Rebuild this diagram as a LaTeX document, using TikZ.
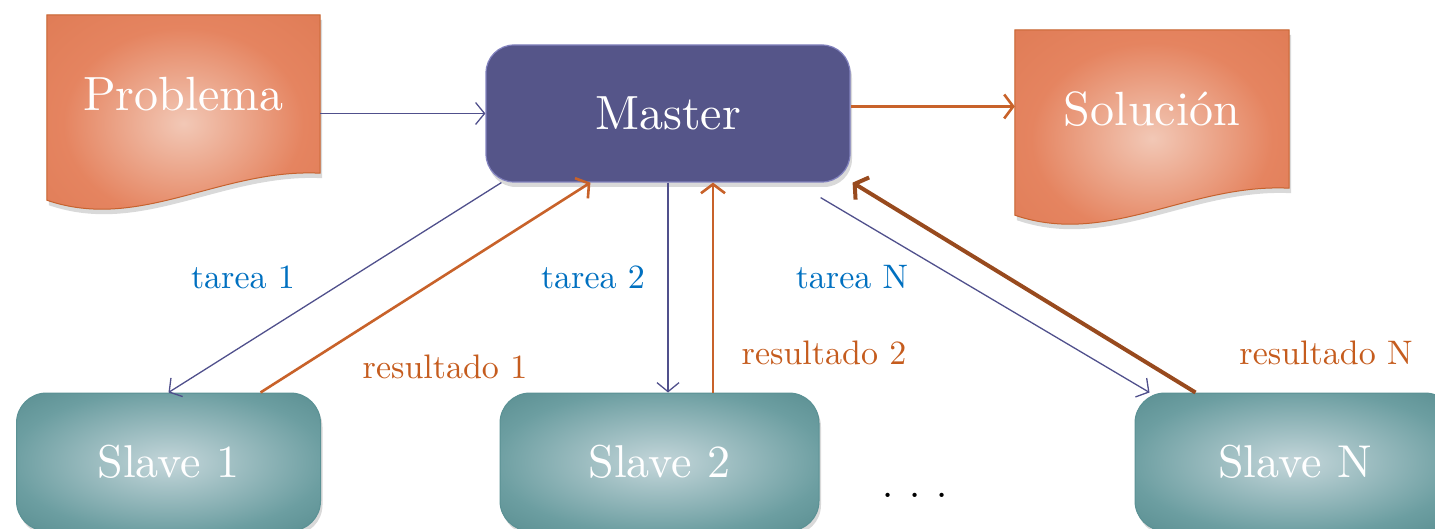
\documentclass[tikz,border=0pt]{standalone}
\usepackage{fontspec}
\setmainfont{lmroman10-regular}[Extension=.otf]
\usetikzlibrary{positioning,calc,arrows.meta,shadows,backgrounds}

\definecolor{docin}{RGB}{242,200,182}
\definecolor{docmid}{RGB}{229,132,96}
\definecolor{docedge}{RGB}{218,116,76}
\definecolor{docout}{RGB}{188,94,44}
\definecolor{docline}{RGB}{198,98,46}
\definecolor{slavein}{RGB}{196,214,218}
\definecolor{slavemid}{RGB}{108,158,161}
\definecolor{slaveout}{RGB}{64,120,123}
\definecolor{slaveline}{RGB}{90,145,148}
\definecolor{masterblue}{RGB}{85,85,137}
\definecolor{masterline}{RGB}{130,130,190}
\definecolor{tskblue}{RGB}{80,80,140}
\definecolor{resorange}{RGB}{200,98,42}
\definecolor{resbrown}{RGB}{152,74,30}
\definecolor{lblblue}{RGB}{0,112,192}
\definecolor{lblorange}{RGB}{197,92,30}

\pgfdeclareradialshading{docglow}{\pgfpoint{0bp}{0bp}}{color(0bp)=(docin); color(22bp)=(docmid); color(50bp)=(docedge); color(72bp)=(docout)}
\pgfdeclareradialshading{slaveglow}{\pgfpoint{0bp}{0bp}}{color(0bp)=(slavein); color(26bp)=(slavemid); color(50bp)=(slaveout); color(72bp)=(slaveout)}

% wavy document outline round a node
\newcommand{\docshape}[1]{%
\shade[shading=docglow, draw=docline, line width=1pt,
  drop shadow={opacity=.3, shadow xshift=2pt, shadow yshift=-5pt}]
  (#1.north west) -- (#1.north east) -- (#1.south east)
  .. controls ($(#1.south east)+(-100,-5)$) and ($(#1.south west)+(93,59)$) .. ($(#1.south west)+(0,27)$)
  -- cycle;}

\begin{document}
\begin{tikzpicture}[x=1pt, y=-1pt,
  box/.style={text=white, font=\fontsize{48}{56}\selectfont, inner sep=0pt},
  docbox/.style={box, minimum width=273pt, minimum height=158pt},
  masterbox/.style={box, minimum width=364pt, minimum height=137pt, rounded corners=28pt,
    fill=masterblue, draw=masterline, line width=1.2pt,
    drop shadow={opacity=.3, shadow xshift=2pt, shadow yshift=-5pt}},
  slavebox/.style={box, font=\fontsize{46}{54}\selectfont, minimum height=138pt, rounded corners=30pt,
    shade, shading=slaveglow, draw=slaveline, line width=1pt,
    drop shadow={opacity=.3, shadow xshift=2pt, shadow yshift=-4pt}},
  tsk/.style={draw=tskblue, line width=1.3pt, -{Straight Barb[length=9pt,width=22pt]}},
  res/.style={draw=resorange, line width=2.6pt, -{Straight Barb[length=9pt,width=24pt]}},
  resn/.style={draw=resbrown, line width=4pt, -{Straight Barb[length=9pt,width=26pt]}},
  tsklabel/.style={text=lblblue, font=\fontsize{34}{40}\selectfont},
  reslabel/.style={text=lblorange, font=\fontsize{34}{40}\selectfont}]
\useasboundingbox (0,0) rectangle (1435,529);

% documents
\node[docbox] (problema) at (183.5,94) {Problema};
\node[docbox, minimum width=274pt] (solucion) at (1152,109) {Solución};
\begin{scope}[on background layer]
\docshape{problema}
\docshape{solucion}
\end{scope}

% master and slaves
\node[masterbox] (master) at (668,113.5) {Master};
\node[slavebox, minimum width=304pt] (slave1) at (168.5,462) {Slave 1};
\node[slavebox, minimum width=319pt] (slave2) at (659.5,462) {Slave 2};
\node[slavebox, minimum width=320pt] (slaveN) at (1295,462) {Slave N};
\node[font=\fontsize{40}{48}\selectfont] (dots) at (915,495) {.\hspace{16pt}.\hspace{16pt}.};

% connectors
\draw[tsk] (problema.east |- master.west) -- (master.west);
\draw[res] ([yshift=7pt]master.east) -- ([yshift=7pt]master.east -| solucion.west);

\draw[tsk] ([xshift=16pt]master.south west) -- (slave1.north);
\draw[res] ([xshift=92pt]slave1.north) -- ([xshift=105pt]master.south west);

\coordinate (r2top) at ([xshift=45pt]master.south);
\draw[tsk] (master.south) -- (master.south |- slave2.north);
\draw[res] (r2top |- slave2.north) -- (r2top);

\coordinate (tNfrom) at ([xshift=-30pt,yshift=-15pt]master.south east);
\draw[tsk] (tNfrom) -- ([xshift=15pt]slaveN.north west);
\draw[resn] ([xshift=61pt]slaveN.north west) -- ([xshift=2pt]master.south east);

% labels
\node[tsklabel] (t1) at (243,277) {tarea 1};
\node[tsklabel] (t2) at (593,277) {tarea 2};
\node[tsklabel] (tN) at (852,277) {tarea N};
\node[reslabel] (r1) at (445,367) {resultado 1};
\node[reslabel] (r2) at (824,353) {resultado 2};
\node[reslabel] (rN) at (1326,353) {resultado N};
\end{tikzpicture}
\end{document}
